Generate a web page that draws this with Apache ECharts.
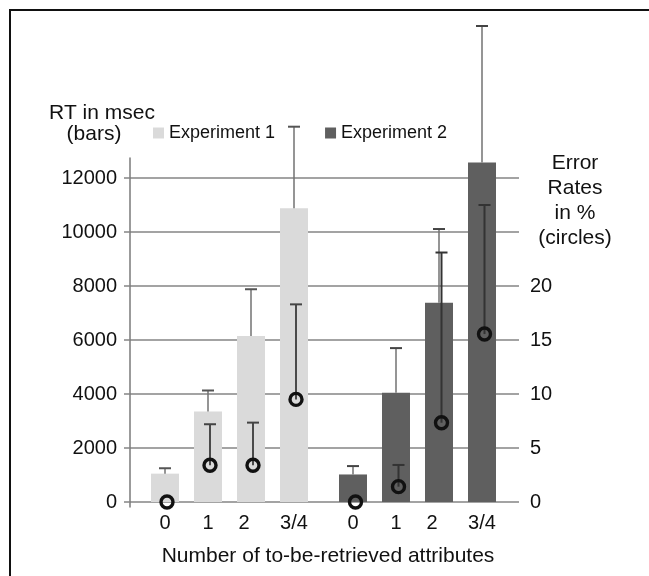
<!DOCTYPE html>
<html>
<head>
<meta charset="utf-8">
<script src="https://cdn.jsdelivr.net/npm/echarts@6/dist/echarts.min.js"></script>
<style>
html,body{margin:0;padding:0;background:#fff;}
#chart{width:649px;height:576px;}
</style>
</head>
<body>
<div id="chart"></div>
<script>
// ---- data ----
const categories = ['0', '1', '2', '3/4'];
const seriesNames = ['Experiment 1', 'Experiment 2'];
// reaction times (ms, bars) and upper end of their error bars
const exp1RT = [1050, 3350, 6150, 10880];
const exp1RTHigh = [1250, 4130, 7880, 13900];
const exp2RT = [1020, 4050, 7380, 12570];
const exp2RTHigh = [1330, 5700, 10110, 17630];
// error rates (%, circles) and upper end of their error bars
const exp1ER = [0, 3.4, 3.4, 9.5];
const exp1ERHigh = [null, 7.2, 7.35, 18.3];
const exp2ER = [0, 1.42, 7.34, 15.55];
const exp2ERHigh = [null, 3.43, 23.1, 27.5];
// axis ticks
const rtTicks = { min: 0, max: 12000, interval: 2000 };
const erTicks = { min: 0, max: 30, interval: 5, lastLabel: 20 };

// ---- chart ----
const FONT = "'Liberation Sans', Arial, Helvetica, sans-serif";
const chart = echarts.init(document.getElementById('chart'), null, { renderer: 'canvas' });

function whisker(offset, color, width, capColor) {
  return function (params, api) {
    const hi = api.value(2);
    if (hi == null || isNaN(hi)) return;
    const p0 = api.coord([api.value(0), api.value(1)]);
    const p1 = api.coord([api.value(0), hi]);
    const cx = p0[0] + offset;
    return {
      type: 'group',
      children: [
        { type: 'line', shape: { x1: cx, y1: p0[1], x2: cx, y2: p1[1] }, style: { stroke: color, lineWidth: width } },
        { type: 'line', shape: { x1: cx - 6, y1: p1[1], x2: cx + 6, y2: p1[1] }, style: { stroke: capColor, lineWidth: 2 } }
      ]
    };
  };
}
const triples = (a, b) => categories.map((c, i) => [i, a[i], b[i]]);

const catLabel = {
  fontSize: 20, color: '#111', margin: 11, fontFamily: FONT, interval: 0,
  formatter: v => (v === '2' ? '{s|2}' : v),
  rich: { s: { fontSize: 20, color: '#111', fontFamily: FONT, padding: [0, 14, 0, 0] } }
};
function catAxis(grid) {
  return { type: 'category', gridIndex: grid, data: categories, axisLine: { show: false }, axisTick: { show: false }, axisLabel: catLabel };
}

const option = {
  animation: false,
  textStyle: { fontFamily: FONT },
  legend: {
    data: seriesNames, left: 153, top: 124, padding: 0,
    itemWidth: 11, itemHeight: 11, itemGap: 50, icon: 'rect',
    textStyle: { fontSize: 18, color: '#111', fontFamily: FONT }
  },
  grid: [
    { left: 130, right: 130, top: 178, bottom: 74 },   // gridlines & visible axes
    { left: 130, right: 130, top: 158, bottom: 69 },   // extended left axis line
    { left: 143.5, width: 172, top: 16, bottom: 74 },  // Experiment 1
    { left: 331.5, width: 172, top: 16, bottom: 74 }   // Experiment 2
  ],
  xAxis: [
    { type: 'category', gridIndex: 0, data: [''], show: false },
    { type: 'category', gridIndex: 1, data: [''], show: false },
    catAxis(2),
    catAxis(3)
  ],
  yAxis: [
    { type: 'value', gridIndex: 0, position: 'left', min: rtTicks.min, max: rtTicks.max, interval: rtTicks.interval,
      axisLine: { show: false },
      axisTick: { show: true, length: 6, lineStyle: { color: '#858585', width: 1.5 } },
      splitLine: { show: true, lineStyle: { color: '#858585', width: 1.5 } },
      axisLabel: { fontSize: 20, color: '#111', margin: 13, fontFamily: FONT, formatter: v => String(v) } },
    { type: 'value', gridIndex: 0, position: 'right', min: erTicks.min, max: erTicks.max, interval: erTicks.interval,
      axisLine: { show: false }, axisTick: { show: false }, splitLine: { show: false },
      axisLabel: { fontSize: 20, color: '#111', margin: 11, fontFamily: FONT,
        formatter: v => (v <= erTicks.lastLabel ? String(v) : '') } },
    { type: 'value', gridIndex: 1, min: -185, max: 12740,
      axisLine: { show: true, lineStyle: { color: '#7a7a7a', width: 1.5 } },
      axisTick: { show: false }, axisLabel: { show: false }, splitLine: { show: false } },
    { type: 'value', gridIndex: 2, min: 0, max: 18000, show: false },
    { type: 'value', gridIndex: 2, min: 0, max: 45, show: false },
    { type: 'value', gridIndex: 3, min: 0, max: 18000, show: false },
    { type: 'value', gridIndex: 3, min: 0, max: 45, show: false }
  ],
  series: [
    { name: seriesNames[0], type: 'bar', xAxisIndex: 2, yAxisIndex: 3, data: exp1RT, barWidth: 28, clip: false,
      itemStyle: { color: '#dadada' }, z: 2 },
    { name: seriesNames[1], type: 'bar', xAxisIndex: 3, yAxisIndex: 5, data: exp2RT, barWidth: 28, clip: false,
      itemStyle: { color: '#5f5f5f' }, z: 2 },
    { type: 'custom', xAxisIndex: 2, yAxisIndex: 3, data: triples(exp1RT, exp1RTHigh), clip: false, z: 3,
      renderItem: whisker(0, '#727272', 1.5, '#555') },
    { type: 'custom', xAxisIndex: 3, yAxisIndex: 5, data: triples(exp2RT, exp2RTHigh), clip: false, z: 3,
      renderItem: whisker(0, '#727272', 1.5, '#444') },
    { type: 'custom', xAxisIndex: 2, yAxisIndex: 4, data: triples(exp1ER, exp1ERHigh), clip: false, z: 4,
      renderItem: whisker(2, '#4a4a4a', 2, '#444') },
    { type: 'custom', xAxisIndex: 3, yAxisIndex: 6, data: triples(exp2ER, exp2ERHigh), clip: false, z: 4,
      renderItem: whisker(2.5, '#333', 2, '#333') },
    { type: 'scatter', xAxisIndex: 2, yAxisIndex: 4, data: exp1ER, symbol: 'circle', symbolSize: 12, symbolOffset: [2, 0],
      clip: false, z: 5, itemStyle: { color: 'rgba(0,0,0,0)', borderColor: '#111', borderWidth: 3.4, opacity: 1 } },
    { type: 'scatter', xAxisIndex: 3, yAxisIndex: 6, data: exp2ER, symbol: 'circle', symbolSize: 12, symbolOffset: [2.5, 0],
      clip: false, z: 5, itemStyle: { color: 'rgba(0,0,0,0)', borderColor: '#111', borderWidth: 3.4, opacity: 1 } }
  ],
  graphic: [
    { type: 'line', shape: { x1: 9, y1: 10, x2: 649, y2: 10 }, style: { stroke: '#111', lineWidth: 2 }, silent: true },
    { type: 'line', shape: { x1: 10, y1: 9, x2: 10, y2: 576 }, style: { stroke: '#111', lineWidth: 2 }, silent: true },
    { type: 'text', style: { text: 'RT in msec', x: 102, y: 113, textAlign: 'center', textVerticalAlign: 'middle',
      font: '21px ' + FONT, fill: '#111' } },
    { type: 'text', style: { text: '(bars)', x: 94, y: 134, textAlign: 'center', textVerticalAlign: 'middle',
      font: '21px ' + FONT, fill: '#111' } },
    { type: 'text', style: { text: 'Error\nRates\nin %\n(circles)', x: 575, y: 151, textAlign: 'center',
      textVerticalAlign: 'top', lineHeight: 25, font: '21px ' + FONT, fill: '#111' } },
    { type: 'text', style: { text: 'Number of to-be-retrieved attributes', x: 328, y: 556, textAlign: 'center',
      textVerticalAlign: 'middle', font: '21px ' + FONT, fill: '#111' } }
  ]
};
chart.setOption(option);
</script>
</body>
</html>
